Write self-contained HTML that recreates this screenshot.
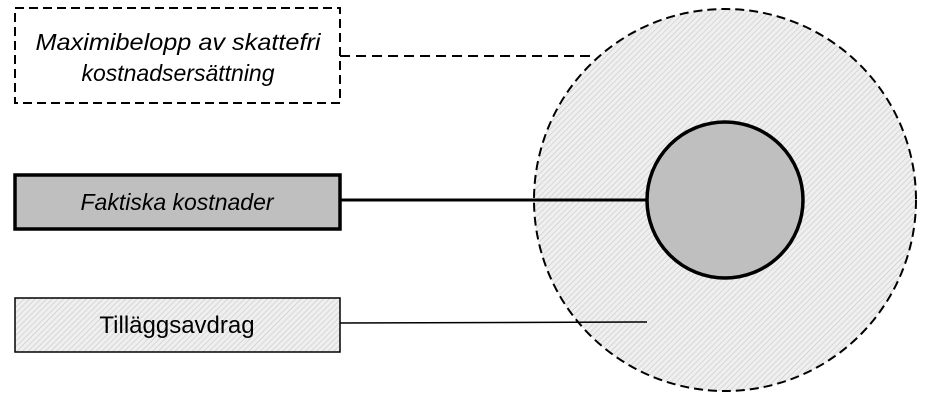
<!DOCTYPE html>
<html><head><style>body{margin:0;background:#fff}svg{display:block}</style></head><body>
<svg width="944" height="405" xmlns="http://www.w3.org/2000/svg">
<defs>
<pattern id="h" width="4" height="4" patternUnits="userSpaceOnUse" patternTransform="rotate(45)">
<rect width="4" height="4" fill="#efefef"/><line x1="0" y1="0" x2="0" y2="4" stroke="#c8c8c8" stroke-width="1.2"/>
</pattern>
</defs>
<circle cx="725" cy="200" r="191" fill="url(#h)" stroke="#000" stroke-width="2" stroke-dasharray="9,5"/>
<circle cx="725" cy="200" r="78" fill="#bfbfbf" stroke="#000" stroke-width="3.5"/>
<line x1="340" y1="56" x2="592" y2="56" stroke="#000" stroke-width="2" stroke-dasharray="10,6"/>
<line x1="340" y1="200" x2="647" y2="200" stroke="#000" stroke-width="3"/>
<line x1="340" y1="323" x2="647" y2="322" stroke="#000" stroke-width="1.5"/>
<rect x="15" y="8" width="325" height="95" fill="#fff" stroke="#000" stroke-width="2" stroke-dasharray="9,5"/>
<rect x="15" y="175" width="325" height="54" fill="#bfbfbf" stroke="#000" stroke-width="3.5"/>
<rect x="15" y="298" width="325" height="54" fill="url(#h)" stroke="#000" stroke-width="1.5"/>
<g font-family="Liberation Sans, sans-serif" font-size="23" text-anchor="middle" fill="#000">
<text x="178" y="50" font-style="italic" textLength="285" lengthAdjust="spacingAndGlyphs">Maximibelopp av skattefri</text>
<text x="178" y="81" font-style="italic">kostnadsersättning</text>
<text x="177" y="210" font-style="italic">Faktiska kostnader</text>
<text x="177" y="333" font-size="24">Tilläggsavdrag</text>
</g>
</svg>
</body></html>
